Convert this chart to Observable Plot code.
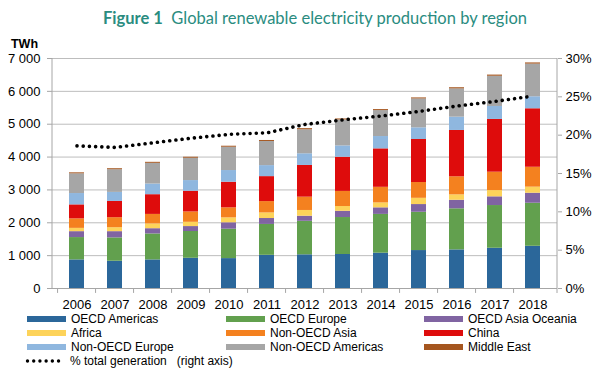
<!DOCTYPE html>
<html>
<head>
<meta charset="utf-8">
<script src="https://cdn.jsdelivr.net/npm/d3@7"></script>
<script src="https://cdn.jsdelivr.net/npm/@observablehq/plot@0.6"></script>
<style>
  body { margin: 0; background: #fff; }
  #wrap { position: relative; width: 600px; height: 377px; overflow: hidden; font-family: "Liberation Sans", Arial, sans-serif; }
  #title { position: absolute; left: 0; width: 600px; top: 8px; text-align: center; padding-left: 30px; box-sizing: border-box;
           font-family: Lato, "Open Sans", sans-serif; font-size: 16.5px; color: #2a8c7f; white-space: nowrap; }
  #title b { font-weight: 700; }
  #chart { position: absolute; left: 0; top: 30px; }
  .leg { position: absolute; font-size: 12px; line-height: 14px; color: #000; white-space: nowrap; }
  .sw { position: absolute; width: 39px; height: 6px; }
</style>
</head>
<body>
<div id="wrap">
  <div id="title"><b>Figure 1</b>&nbsp; Global renewable electricity production by region</div>
  <div id="chart"></div>
  <div id="legend"></div>
</div>
<script>
const years = [2006, 2007, 2008, 2009, 2010, 2011, 2012, 2013, 2014, 2015, 2016, 2017, 2018];
const regions = ["OECD Americas", "OECD Europe", "OECD Asia Oceania", "Africa", "Non-OECD Asia", "China", "Non-OECD Europe", "Non-OECD Americas", "Middle East"];
const regionColors = ["#2b679a", "#62a04e", "#8064a2", "#fdd35a", "#f4811f", "#de0c0c", "#8fb7df", "#a6a6a6", "#a5561f"];

const oecdAmericas    = [870, 830, 870, 920, 910, 1010, 1025, 1035, 1075, 1155, 1175, 1225, 1285];
const oecdEurope      = [680, 710, 790, 815, 895, 940, 1020, 1125, 1180, 1165, 1250, 1300, 1310];
const oecdAsiaOceania = [180, 190, 160, 150, 195, 180, 155, 190, 200, 235, 260, 265, 305];
const africa          = [100, 120, 145, 130, 150, 170, 175, 145, 150, 190, 165, 190, 185];
const nonOecdAsia     = [290, 305, 290, 315, 305, 345, 405, 460, 475, 480, 550, 560, 605];
const china           = [425, 495, 600, 630, 780, 760, 965, 1040, 1170, 1310, 1410, 1605, 1780];
const nonOecdEurope   = [345, 275, 325, 325, 355, 335, 355, 345, 375, 355, 405, 395, 365];
const nonOecdAmericas = [600, 690, 630, 680, 710, 735, 730, 790, 790, 880, 860, 920, 995];
const middleEast      = [30, 30, 30, 30, 30, 30, 35, 30, 30, 30, 35, 35, 35];
const pctTotal        = [18.6, 18.4, 19.0, 19.6, 20.1, 20.3, 21.4, 22.0, 22.5, 23.1, 23.8, 24.4, 25.1];

const leftTicks = [0, 1000, 2000, 3000, 4000, 5000, 6000, 7000];
const rightTicks = [0, 5, 10, 15, 20, 25, 30];
const yMax = 7000, pctMax = 30;

const series = [oecdAmericas, oecdEurope, oecdAsiaOceania, africa, nonOecdAsia, china, nonOecdEurope, nonOecdAmericas, middleEast];
const data = [];
regions.forEach((r, i) => years.forEach((y, j) => data.push({year: y, region: r, value: series[i][j]})));
const pctData = years.map((y, j) => ({year: y, pct: pctTotal[j]}));
const toTWh = p => p * yMax / pctMax;

const W = 600, H = 282;
const mL = 52, mR = 43, mT = 28, mB = 24;
const step = (W - mL - mR) / years.length;

const chart = Plot.plot({
  width: W, height: H,
  marginLeft: mL, marginRight: mR, marginTop: mT, marginBottom: mB,
  style: {fontFamily: "'Liberation Sans', Arial, sans-serif", fontSize: "13px", color: "#000", background: "transparent"},
  x: {type: "band", domain: years, paddingInner: 0.6, paddingOuter: 0.3, label: null},
  y: {type: "linear", domain: [0, yMax], label: null},
  color: {domain: regions, range: regionColors},
  marks: [
    Plot.gridY(leftTicks, {stroke: "#bdbdbd", strokeOpacity: 1}),
    Plot.barY(data, {x: "year", y: "value", fill: "region", order: regions}),
    Plot.ruleY([0], {stroke: "#a6a6a6"}),
    Plot.line(pctData, {x: "year", y: d => toTWh(d.pct), stroke: "#000", strokeWidth: 3.6, strokeDasharray: "0.01,6.2", strokeLinecap: "round"}),
    Plot.ruleX(years, {x: d => d, dx: -step / 2, y1: 0, y2: -150, stroke: "#a6a6a6"}),
    Plot.axisX({tickSize: 0, tickPadding: 11, fontSize: 13, tickFormat: d => String(d)}),
    Plot.axisY(leftTicks, {anchor: "left", tickSize: 5, tickPadding: 7, stroke: "#a6a6a6", fill: "#000",
      tickFormat: d => d3.format(",")(d).replace(",", " ")}),
    Plot.axisY(rightTicks.map(toTWh), {anchor: "right", tickSize: 4, tickPadding: 4, stroke: "#a6a6a6", fill: "#000",
      tickFormat: d => Math.round(d * pctMax / yMax) + "%"}),
    Plot.text(["TWh"], {frameAnchor: "top-left", dx: -28, dy: -19, fontWeight: "bold", fontSize: 12.5, textAnchor: "middle"})
  ]
});
const svg = d3.select(chart);
svg.append("line").attr("x1", W - mR).attr("x2", W - mR).attr("y1", mT).attr("y2", H - mB + 5).attr("stroke", "#a6a6a6");
svg.append("line").attr("x1", mL).attr("x2", mL).attr("y1", mT).attr("y2", H - mB).attr("stroke", "#a6a6a6");
document.getElementById("chart").appendChild(chart);

// legend
const legend = document.getElementById("legend");
const colX = [27, 226, 424];
const rowY = [319, 333, 347];
regions.forEach((r, i) => {
  const cx = colX[i % 3], cy = rowY[Math.floor(i / 3)];
  const sw = document.createElement("div");
  sw.className = "sw";
  sw.style.left = cx + "px"; sw.style.top = (cy - 3) + "px"; sw.style.background = regionColors[i];
  legend.appendChild(sw);
  const t = document.createElement("div");
  t.className = "leg";
  t.style.left = (cx + 44) + "px"; t.style.top = (cy - 7) + "px";
  t.textContent = r;
  legend.appendChild(t);
});
const dl = document.createElementNS("http://www.w3.org/2000/svg", "svg");
dl.setAttribute("width", 45); dl.setAttribute("height", 8);
dl.style.position = "absolute"; dl.style.left = "25px"; dl.style.top = "357px";
dl.innerHTML = '<line x1="2.5" x2="38" y1="4" y2="4" stroke="#000" stroke-width="3.4" stroke-dasharray="0.01,6.2" stroke-linecap="round"/>';
legend.appendChild(dl);
const lt = document.createElement("div");
lt.className = "leg";
lt.style.left = "70px"; lt.style.top = "354px";
lt.textContent = "% total generation\u00a0\u00a0 (right axis)";
legend.appendChild(lt);
</script>
</body>
</html>
